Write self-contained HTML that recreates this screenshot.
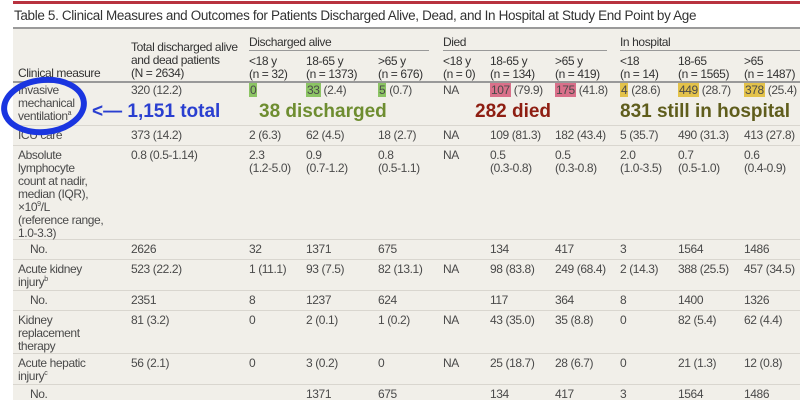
<!DOCTYPE html>
<html><head><meta charset="utf-8">
<style>
body{margin:0;width:800px;height:400px;overflow:hidden;background:#fff;font-family:"Liberation Sans",sans-serif;position:relative}
.t{position:absolute;font-size:12px;letter-spacing:-0.4px;color:#4a4a4a;white-space:nowrap;line-height:13px}
.t sup{font-size:7px;line-height:0;vertical-align:5px}
.h{color:#333}
.ln{position:absolute;height:1px;background:#d9d6cf}
.hl{padding:0 1px}
.ann{position:absolute;font-weight:bold;font-size:19px;white-space:nowrap;line-height:20px}
</style></head><body>
<div style="position:absolute;left:13px;top:1px;width:787px;height:3px;background:#b8323f"></div>
<div class="t h" style="left:14px;top:9px;font-size:13.5px;letter-spacing:-0.35px;line-height:14px">Table 5. Clinical Measures and Outcomes for Patients Discharged Alive, Dead, and In Hospital at Study End Point by Age</div>
<div style="position:absolute;left:13px;top:27px;width:787px;height:2px;background:#9a9a9a"></div>
<div style="position:absolute;left:13px;top:29px;width:787px;height:371px;background:#f1efe9"></div>

<div class="t h" style="left:18px;top:67px">Clinical measure</div>
<div class="t h" style="left:131px;top:41px;line-height:13px">Total discharged alive<br>and dead patients<br>(N = 2634)</div>
<div class="t h" style="left:249px;top:36px">Discharged alive</div>
<div class="t h" style="left:443px;top:36px">Died</div>
<div class="t h" style="left:620px;top:36px">In hospital</div>
<div style="position:absolute;left:249px;top:50px;width:180px;height:1px;background:#999"></div>
<div style="position:absolute;left:443px;top:50px;width:164px;height:1px;background:#999"></div>
<div style="position:absolute;left:620px;top:50px;width:180px;height:1px;background:#999"></div>
<div class="t h" style="left:249px;top:55px">&lt;18 y<br>(n = 32)</div>
<div class="t h" style="left:306px;top:55px">18-65 y<br>(n = 1373)</div>
<div class="t h" style="left:378px;top:55px">&gt;65 y<br>(n = 676)</div>
<div class="t h" style="left:443px;top:55px">&lt;18 y<br>(n = 0)</div>
<div class="t h" style="left:490px;top:55px">18-65 y<br>(n = 134)</div>
<div class="t h" style="left:555px;top:55px">&gt;65 y<br>(n = 419)</div>
<div class="t h" style="left:620px;top:55px">&lt;18<br>(n = 14)</div>
<div class="t h" style="left:678px;top:55px">18-65<br>(n = 1565)</div>
<div class="t h" style="left:744px;top:55px">&gt;65<br>(n = 1487)</div>
<div style="position:absolute;left:13px;top:81px;width:787px;height:2px;background:#999"></div>

<div class="ln" style="left:13px;top:125px;width:787px"></div>
<div class="ln" style="left:13px;top:145px;width:787px"></div>
<div class="ln" style="left:13px;top:239px;width:787px"></div>
<div class="ln" style="left:13px;top:259px;width:787px"></div>
<div class="ln" style="left:13px;top:290px;width:787px"></div>
<div class="ln" style="left:13px;top:310px;width:787px"></div>
<div class="ln" style="left:13px;top:353px;width:787px"></div>
<div class="ln" style="left:13px;top:384px;width:787px"></div>

<div class="t" style="left:18px;top:84px">Invasive<br>mechanical<br>ventilation<sup>a</sup></div>
<div class="t" style="left:131px;top:84px">320 (12.2)</div>
<div class="t" style="left:249px;top:84px"><span class="hl" style="background:#8cc464">0</span></div>
<div class="t" style="left:306px;top:84px"><span class="hl" style="background:#8cc464">33</span> (2.4)</div>
<div class="t" style="left:378px;top:84px"><span class="hl" style="background:#8cc464">5</span> (0.7)</div>
<div class="t" style="left:443px;top:84px">NA</div>
<div class="t" style="left:490px;top:84px"><span class="hl" style="background:#d9708a">107</span> (79.9)</div>
<div class="t" style="left:555px;top:84px"><span class="hl" style="background:#d9708a">175</span> (41.8)</div>
<div class="t" style="left:620px;top:84px"><span class="hl" style="background:#e3c24a">4</span> (28.6)</div>
<div class="t" style="left:678px;top:84px"><span class="hl" style="background:#e3c24a">449</span> (28.7)</div>
<div class="t" style="left:744px;top:84px"><span class="hl" style="background:#e3c24a">378</span> (25.4)</div>

<div class="t" style="left:18px;top:129px">ICU care</div>
<div class="t" style="left:131px;top:129px">373 (14.2)</div>
<div class="t" style="left:249px;top:129px">2 (6.3)</div>
<div class="t" style="left:306px;top:129px">62 (4.5)</div>
<div class="t" style="left:378px;top:129px">18 (2.7)</div>
<div class="t" style="left:443px;top:129px">NA</div>
<div class="t" style="left:490px;top:129px">109 (81.3)</div>
<div class="t" style="left:555px;top:129px">182 (43.4)</div>
<div class="t" style="left:620px;top:129px">5 (35.7)</div>
<div class="t" style="left:678px;top:129px">490 (31.3)</div>
<div class="t" style="left:744px;top:129px">413 (27.8)</div>

<div class="t" style="left:18px;top:149px">Absolute<br>lymphocyte<br>count at nadir,<br>median (IQR),<br>×10<sup>9</sup>/L<br>(reference range,<br>1.0-3.3)</div>
<div class="t" style="left:131px;top:149px">0.8 (0.5-1.14)</div>
<div class="t" style="left:249px;top:149px">2.3<br>(1.2-5.0)</div>
<div class="t" style="left:306px;top:149px">0.9<br>(0.7-1.2)</div>
<div class="t" style="left:378px;top:149px">0.8<br>(0.5-1.1)</div>
<div class="t" style="left:443px;top:149px">NA</div>
<div class="t" style="left:490px;top:149px">0.5<br>(0.3-0.8)</div>
<div class="t" style="left:555px;top:149px">0.5<br>(0.3-0.8)</div>
<div class="t" style="left:620px;top:149px">2.0<br>(1.0-3.5)</div>
<div class="t" style="left:678px;top:149px">0.7<br>(0.5-1.0)</div>
<div class="t" style="left:744px;top:149px">0.6<br>(0.4-0.9)</div>

<div class="t" style="left:30px;top:243px">No.</div>
<div class="t" style="left:131px;top:243px">2626</div>
<div class="t" style="left:249px;top:243px">32</div>
<div class="t" style="left:306px;top:243px">1371</div>
<div class="t" style="left:378px;top:243px">675</div>
<div class="t" style="left:490px;top:243px">134</div>
<div class="t" style="left:555px;top:243px">417</div>
<div class="t" style="left:620px;top:243px">3</div>
<div class="t" style="left:678px;top:243px">1564</div>
<div class="t" style="left:744px;top:243px">1486</div>

<div class="t" style="left:18px;top:263px">Acute kidney<br>injury<sup>b</sup></div>
<div class="t" style="left:131px;top:263px">523 (22.2)</div>
<div class="t" style="left:249px;top:263px">1 (11.1)</div>
<div class="t" style="left:306px;top:263px">93 (7.5)</div>
<div class="t" style="left:378px;top:263px">82 (13.1)</div>
<div class="t" style="left:443px;top:263px">NA</div>
<div class="t" style="left:490px;top:263px">98 (83.8)</div>
<div class="t" style="left:555px;top:263px">249 (68.4)</div>
<div class="t" style="left:620px;top:263px">2 (14.3)</div>
<div class="t" style="left:678px;top:263px">388 (25.5)</div>
<div class="t" style="left:744px;top:263px">457 (34.5)</div>

<div class="t" style="left:30px;top:294px">No.</div>
<div class="t" style="left:131px;top:294px">2351</div>
<div class="t" style="left:249px;top:294px">8</div>
<div class="t" style="left:306px;top:294px">1237</div>
<div class="t" style="left:378px;top:294px">624</div>
<div class="t" style="left:490px;top:294px">117</div>
<div class="t" style="left:555px;top:294px">364</div>
<div class="t" style="left:620px;top:294px">8</div>
<div class="t" style="left:678px;top:294px">1400</div>
<div class="t" style="left:744px;top:294px">1326</div>

<div class="t" style="left:18px;top:314px">Kidney<br>replacement<br>therapy</div>
<div class="t" style="left:131px;top:314px">81 (3.2)</div>
<div class="t" style="left:249px;top:314px">0</div>
<div class="t" style="left:306px;top:314px">2 (0.1)</div>
<div class="t" style="left:378px;top:314px">1 (0.2)</div>
<div class="t" style="left:443px;top:314px">NA</div>
<div class="t" style="left:490px;top:314px">43 (35.0)</div>
<div class="t" style="left:555px;top:314px">35 (8.8)</div>
<div class="t" style="left:620px;top:314px">0</div>
<div class="t" style="left:678px;top:314px">82 (5.4)</div>
<div class="t" style="left:744px;top:314px">62 (4.4)</div>

<div class="t" style="left:18px;top:357px">Acute hepatic<br>injury<sup>c</sup></div>
<div class="t" style="left:131px;top:357px">56 (2.1)</div>
<div class="t" style="left:249px;top:357px">0</div>
<div class="t" style="left:306px;top:357px">3 (0.2)</div>
<div class="t" style="left:378px;top:357px">0</div>
<div class="t" style="left:443px;top:357px">NA</div>
<div class="t" style="left:490px;top:357px">25 (18.7)</div>
<div class="t" style="left:555px;top:357px">28 (6.7)</div>
<div class="t" style="left:620px;top:357px">0</div>
<div class="t" style="left:678px;top:357px">21 (1.3)</div>
<div class="t" style="left:744px;top:357px">12 (0.8)</div>

<div class="t" style="left:30px;top:388px">No.</div>
<div class="t" style="left:306px;top:388px">1371</div>
<div class="t" style="left:378px;top:388px">675</div>
<div class="t" style="left:490px;top:388px">134</div>
<div class="t" style="left:555px;top:388px">417</div>
<div class="t" style="left:620px;top:388px">3</div>
<div class="t" style="left:678px;top:388px">1564</div>
<div class="t" style="left:744px;top:388px">1486</div>

<svg style="position:absolute;left:0;top:0" width="120" height="150">
<ellipse cx="44" cy="106" rx="40" ry="26" fill="none" stroke="#1a35e0" stroke-width="6" transform="rotate(-6 44 106)"/>
</svg>
<div class="ann" style="left:92px;top:102px;color:#2a3fd0">&lt;— 1,151 total</div>
<div class="ann" style="left:259px;top:102px;color:#6e8d30">38 discharged</div>
<div class="ann" style="left:475px;top:102px;color:#8e1e12">282 died</div>
<div class="ann" style="left:620px;top:102px;color:#5f5d1c">831 still in hospital</div>
</body></html>
